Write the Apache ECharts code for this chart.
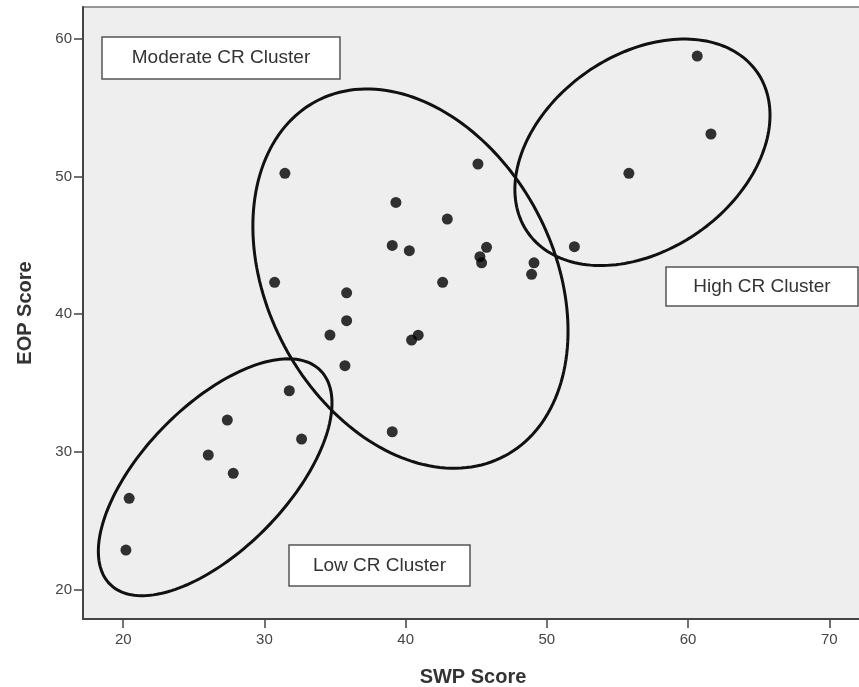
<!DOCTYPE html>
<html>
<head>
<meta charset="utf-8">
<script src="https://cdn.jsdelivr.net/npm/echarts@6/dist/echarts.min.js"></script>
<style>
html,body{margin:0;padding:0;background:#fff;}
#chart{width:859px;height:687px;}
</style>
</head>
<body>
<div id="chart"></div>
<script>
// SWP score (x) and EOP score (y) of each participant
var swpScores = [31.45, 39.31, 42.95, 39.05, 40.26, 30.72, 42.62, 35.82, 35.82, 34.64,
                 40.42, 40.89, 45.12, 45.73, 45.26, 45.38, 51.95, 49.09, 48.92, 60.65,
                 61.62, 55.81, 35.70, 31.76, 27.37, 32.63, 39.05, 26.02, 27.79, 20.42, 20.19];
var eopScores = [50.24, 48.13, 46.92, 45.00, 44.62, 42.32, 42.32, 41.56, 39.53, 38.49,
                 38.12, 38.48, 50.92, 44.86, 44.18, 43.74, 44.91, 43.74, 42.90, 58.76,
                 53.10, 50.24, 36.26, 34.44, 32.31, 30.93, 31.46, 29.77, 28.44, 26.62, 22.86];

// Cluster ellipses in data units: centre x, centre y, first half-axis (dx, dy), second half-axis (dx, dy)
var clusterNames = ['Low CR Cluster', 'Moderate CR Cluster', 'High CR Cluster'];
var ellipseCentreX = [26.51, 40.34, 56.77];
var ellipseCentreY = [28.15, 42.59, 51.77];
var ellipseAxisUX = [7.43, 6.68, 8.12];
var ellipseAxisUY = [7.79, -12.89, 5.83];
var ellipseAxisVX = [3.64, 8.94, 3.96];
var ellipseAxisVY = [-3.66, 4.88, -5.81];

var xTicks = [20, 30, 40, 50, 60, 70];
var yTicks = [20, 30, 40, 50, 60];

var points = swpScores.map(function (x, i) { return [x, eopScores[i]]; });
var ellipses = ellipseCentreX.map(function (cx, i) {
  return [cx, ellipseCentreY[i], ellipseAxisUX[i], ellipseAxisUY[i], ellipseAxisVX[i], ellipseAxisVY[i]];
});

var chart = echarts.init(document.getElementById('chart'), null, {renderer: 'canvas'});
var labelFont = '"Liberation Sans", Arial, sans-serif';

function boxGraphic(x, y, w, h, text) {
  return {
    type: 'group',
    z: 100,
    children: [
      {type: 'rect', shape: {x: x, y: y, width: w, height: h},
       style: {fill: '#ffffff', stroke: '#555555', lineWidth: 1.5}},
      {type: 'text', x: x + w / 2, y: y + h / 2,
       style: {text: text, fill: '#333333', font: '19px ' + labelFont,
               textAlign: 'center', textVerticalAlign: 'middle'}}
    ]
  };
}

var option = {
  backgroundColor: '#ffffff',
  animation: false,
  grid: {
    left: 83, width: 780, top: 7, height: 612,
    outerBoundsMode: 'none', containLabel: false,
    show: true, backgroundColor: '#eeeeee', borderColor: '#777777', borderWidth: 1.5
  },
  xAxis: {
    type: 'value', min: 17.15, max: 72.39,
    name: 'SWP Score', nameLocation: 'middle', nameGap: 48,
    nameTextStyle: {fontFamily: labelFont, fontWeight: 'bold', fontSize: 20, color: '#333'},
    splitLine: {show: false},
    axisLine: {show: true, onZero: false, lineStyle: {color: '#444', width: 2}},
    axisTick: {show: true, length: 9, customValues: xTicks, lineStyle: {color: '#444', width: 1.5}},
    axisLabel: {customValues: xTicks, margin: 13, fontFamily: labelFont, fontSize: 15, color: '#444'}
  },
  yAxis: {
    type: 'value', min: 17.85, max: 62.33,
    name: 'EOP Score', nameLocation: 'middle', nameGap: 48,
    nameTextStyle: {fontFamily: labelFont, fontWeight: 'bold', fontSize: 20, color: '#333'},
    splitLine: {show: false},
    axisLine: {show: true, onZero: false, lineStyle: {color: '#444', width: 2}},
    axisTick: {show: true, length: 9, customValues: yTicks, lineStyle: {color: '#444', width: 1.5}},
    axisLabel: {customValues: yTicks, margin: 11, fontFamily: labelFont, fontSize: 15, color: '#444'}
  },
  series: [
    {
      type: 'custom',
      name: 'clusters',
      data: ellipses,
      clip: false,
      z: 3,
      renderItem: function (params, api) {
        var cx = api.value(0), cy = api.value(1);
        var ux = api.value(2), uy = api.value(3);
        var vx = api.value(4), vy = api.value(5);
        var pts = [];
        var n = 180;
        for (var k = 0; k <= n; k++) {
          var t = 2 * Math.PI * k / n;
          var c = Math.cos(t), s = Math.sin(t);
          pts.push(api.coord([cx + ux * c + vx * s, cy + uy * c + vy * s]));
        }
        return {
          type: 'polyline',
          shape: {points: pts},
          style: {fill: null, stroke: '#111111', lineWidth: 3}
        };
      }
    },
    {
      type: 'scatter',
      name: 'participants',
      data: points,
      symbol: 'circle',
      symbolSize: 11,
      z: 4,
      itemStyle: {color: '#000000'}
    }
  ],
  graphic: [
    boxGraphic(102, 37, 238, 42, clusterNames[1]),
    boxGraphic(666, 267, 192, 39, clusterNames[2]),
    boxGraphic(289, 545, 181, 41, clusterNames[0])
  ]
};
chart.setOption(option);
</script>
</body>
</html>
